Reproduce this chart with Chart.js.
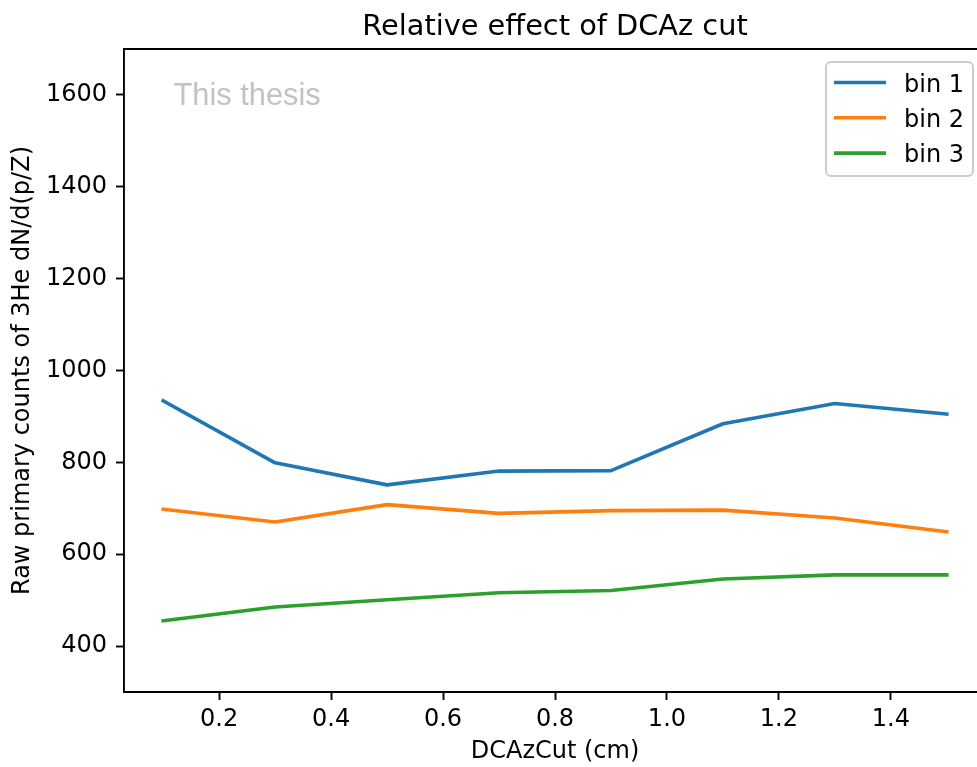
<!DOCTYPE html>
<html>
<head>
<meta charset="utf-8">
<script src="https://cdn.jsdelivr.net/npm/chart.js@4.4.0/dist/chart.umd.min.js"></script>
<style>
  html, body { margin: 0; padding: 0; background: #fff; overflow: hidden; width: 977px; height: 767px; }
  canvas { display: block; }
</style>
</head>
<body>
<canvas id="c" width="990" height="767"></canvas>
<script>
// DCAz cut values (cm) and raw primary 3He counts per momentum bin
const cutValues = [0.1, 0.3, 0.5, 0.7, 0.9, 1.1, 1.3, 1.5];
const bin1 = [934, 799, 751, 781, 782, 884, 928, 905];
const bin2 = [698, 670, 708, 689, 695, 696, 679, 649];
const bin3 = [455, 485, 501, 516, 521, 546, 555, 555];
const seriesNames = ['bin 1', 'bin 2', 'bin 3'];
const xTickValues = [0.2, 0.4, 0.6, 0.8, 1.0, 1.2, 1.4];
const yTickValues = [400, 600, 800, 1000, 1200, 1400, 1600];

const FONT = 'DejaVu Sans';
const palette = ['#1f77b4', '#ff7f0e', '#2ca02c'];

const toPoints = ys => cutValues.map((x, i) => ({ x: x, y: ys[i] }));

// Frame, title, watermark and legend drawn on top of the axes
const decorations = {
  id: 'decorations',
  afterDraw(chart) {
    const { ctx, chartArea: a } = chart;
    ctx.save();
    // full box around the axes
    ctx.strokeStyle = '#000';
    ctx.lineWidth = 1.9;
    ctx.beginPath();
    ctx.moveTo(a.left, a.top);
    ctx.lineTo(a.right, a.top);
    ctx.lineTo(a.right, a.bottom);
    ctx.stroke();

    // title
    ctx.fillStyle = '#000';
    ctx.font = '28.8px "' + FONT + '"';
    ctx.textAlign = 'center';
    ctx.textBaseline = 'alphabetic';
    ctx.fillText('Relative effect of DCAz cut', (a.left + a.right) / 2, 34.5);

    // watermark
    ctx.fillStyle = '#c2c2c2';
    ctx.font = '30.8px "Liberation Sans"';
    ctx.textAlign = 'left';
    ctx.fillText('This thesis', a.left + 49.5, a.top + 56);

    // legend
    const bw = 147, bh = 114;
    const bx = a.right - 13 - bw, by = a.top + 13;
    const r = 5;
    ctx.beginPath();
    ctx.moveTo(bx + r, by);
    ctx.arcTo(bx + bw, by, bx + bw, by + bh, r);
    ctx.arcTo(bx + bw, by + bh, bx, by + bh, r);
    ctx.arcTo(bx, by + bh, bx, by, r);
    ctx.arcTo(bx, by, bx + bw, by, r);
    ctx.closePath();
    ctx.fillStyle = 'rgba(255,255,255,0.8)';
    ctx.fill();
    ctx.strokeStyle = '#cccccc';
    ctx.lineWidth = 2;
    ctx.stroke();

    chart.data.datasets.forEach((ds, i) => {
      const cy = by + 20.5 + i * 35.3;
      ctx.strokeStyle = ds.borderColor;
      ctx.lineWidth = 3.6;
      ctx.lineCap = 'butt';
      ctx.beginPath();
      ctx.moveTo(bx + 8, cy);
      ctx.lineTo(bx + 60, cy);
      ctx.stroke();
      ctx.fillStyle = '#000';
      ctx.font = '24px "' + FONT + '"';
      ctx.textAlign = 'left';
      ctx.textBaseline = 'alphabetic';
      ctx.fillText(ds.label, bx + 78, cy + 9);
    });
    ctx.restore();
  }
};

const lineStyle = {
  borderWidth: 3.6,
  pointRadius: 0,
  pointHoverRadius: 0,
  tension: 0,
  fill: false,
  borderJoinStyle: 'round',
  borderCapStyle: 'square'
};

new Chart(document.getElementById('c'), {
  type: 'line',
  data: {
    datasets: [bin1, bin2, bin3].map((ys, i) => Object.assign({
      label: seriesNames[i],
      data: toPoints(ys),
      borderColor: palette[i],
      backgroundColor: palette[i]
    }, lineStyle))
  },
  options: {
    responsive: false,
    animation: false,
    devicePixelRatio: 1,
    layout: { padding: { top: 49, right: 4, left: 0, bottom: 0 } },
    plugins: {
      legend: { display: false },
      title: { display: false },
      tooltip: { enabled: false }
    },
    scales: {
      x: {
        type: 'linear',
        min: 0.03,
        max: 1.57,
        afterBuildTicks: s => { s.ticks = xTickValues.map(v => ({ value: v })); },
        afterFit: s => { s.height = 75; },
        grid: { drawOnChartArea: false, drawTicks: true, tickLength: 8, tickColor: '#000', tickWidth: 1.9 },
        border: { display: true, color: '#000', width: 1.9 },
        ticks: {
          color: '#000',
          padding: 5,
          maxRotation: 0,
          autoSkip: false,
          font: { family: FONT, size: 24 },
          callback: v => v.toFixed(1)
        },
        title: {
          display: true,
          text: 'DCAzCut (cm)',
          color: '#000',
          font: { family: FONT, size: 24 },
          padding: { top: 0, bottom: 1 }
        }
      },
      y: {
        type: 'linear',
        min: 300,
        max: 1700,
        afterBuildTicks: s => { s.ticks = yTickValues.map(v => ({ value: v })); },
        afterFit: s => { s.width = 124; },
        grid: { drawOnChartArea: false, drawTicks: true, tickLength: 8, tickColor: '#000', tickWidth: 1.9 },
        border: { display: true, color: '#000', width: 1.9 },
        ticks: {
          color: '#000',
          padding: 9,
          autoSkip: false,
          font: { family: FONT, size: 24 },
          callback: v => String(v)
        },
        title: {
          display: true,
          text: 'Raw primary counts of 3He dN/d(p/Z)',
          color: '#000',
          font: { family: FONT, size: 24 },
          padding: { top: 8, bottom: 0 }
        }
      }
    }
  },
  plugins: [decorations]
});
</script>
</body>
</html>
